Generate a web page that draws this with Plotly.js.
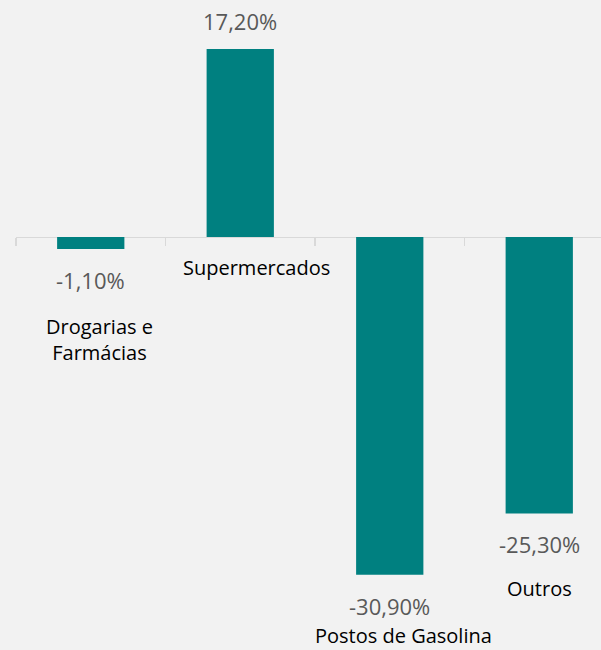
<!DOCTYPE html>
<html>
<head>
<meta charset="utf-8">
<script src="https://cdn.plot.ly/plotly-3.0.1.min.js"></script>
<style>html,body{margin:0;padding:0;overflow:hidden;background:#f2f2f2;}</style>
</head>
<body>
<div id="chart"></div>
<script>
var categories = ["Drogarias e<br>Farmácias", "Supermercados", "Postos de Gasolina", "Outros"];
var values = [-1.1, 17.2, -30.9, -25.3];
var valueLabels = ["-1,10%", "17,20%", "-30,90%", "-25,30%"];

// label placement (pixels) relative to bar end / axis
var catShiftY = [-91, -31, -61, -75];
var catShiftX = [9, 16, 14, 0];

var yMax = 21.68, yMin = -37.79;

var annotations = [];
values.forEach(function (v, i) {
  annotations.push({
    x: i, y: v, xref: 'x', yref: 'y',
    text: valueLabels[i], showarrow: false,
    yanchor: 'middle', xanchor: 'center',
    yshift: v >= 0 ? 28 : -31,
    font: {family: 'Open Sans, sans-serif', size: 22, color: '#595959'}
  });
  annotations.push({
    x: i, y: Math.min(v, 0), xref: 'x', yref: 'y',
    text: categories[i], showarrow: false,
    yanchor: 'middle', xanchor: 'center',
    yshift: catShiftY[i], xshift: catShiftX[i],
    font: {family: 'Open Sans, sans-serif', size: 20, color: '#000000'}
  });
});

var trace = {
  type: 'bar',
  x: [0, 1, 2, 3],
  y: values,
  marker: {color: '#008080', line: {width: 0}},
  hoverinfo: 'none'
};

var layout = {
  width: 620, height: 650,
  margin: {l: 16, r: 6, t: 0, b: 0},
  paper_bgcolor: '#f2f2f2', plot_bgcolor: '#f2f2f2',
  bargap: 0.55,
  showlegend: false,
  xaxis: {
    type: 'category',
    tickvals: [0, 1, 2, 3],
    ticktext: ['', '', '', ''],
    range: [-0.5, 3.5],
    tickson: 'boundaries',
    ticks: 'outside', ticklen: 8, tickwidth: 1.5, tickcolor: '#d9d9d9',
    showline: true, linecolor: '#d9d9d9', linewidth: 1.5,
    showgrid: false, zeroline: false, showticklabels: false,
    anchor: 'free', position: (0 - yMin) / (yMax - yMin),
    layer: 'below traces'
  },
  yaxis: {
    range: [yMin, yMax],
    visible: false, showgrid: false, zeroline: false
  },
  annotations: annotations
};

Plotly.newPlot('chart', [trace], layout, {displayModeBar: false, staticPlot: true});
</script>
</body>
</html>
